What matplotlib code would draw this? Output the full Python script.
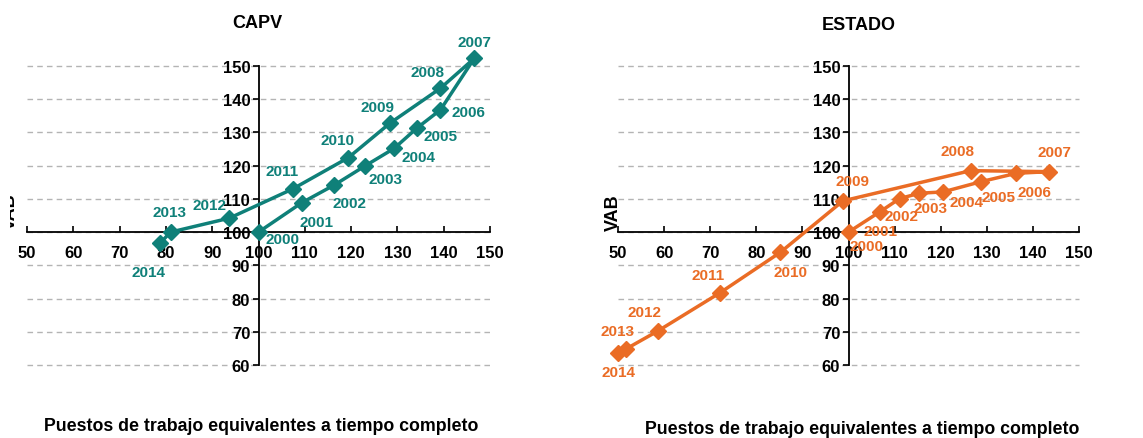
import matplotlib.pyplot as plt
from matplotlib.transforms import Bbox, TransformedBbox

plt.rcParams['font.family'] = ['Liberation Sans', 'DejaVu Sans']

years = [2000, 2001, 2002, 2003, 2004, 2005, 2006, 2007, 2008, 2009, 2010, 2011, 2012, 2013, 2014]

# CAPV: empleo (x) y VAB (y), indice 2000 = 100
capv_empleo = [100, 109.3, 116.4, 123.1, 129.3, 134.2, 139.3, 146.6, 139.3, 128.4, 119.4, 107.4, 93.7, 81.0, 78.7]
capv_vab = [100, 108.8, 114.2, 120.0, 125.2, 131.3, 136.8, 152.3, 143.3, 132.8, 122.4, 113.0, 104.2, 100.0, 96.6]

# ESTADO
est_empleo = [100, 106.9, 111.1, 115.4, 120.5, 128.8, 136.4, 143.5, 126.5, 98.8, 85.2, 72.2, 58.6, 51.7, 50.1]
est_vab = [100, 106.2, 110.1, 111.7, 112.1, 115.2, 117.7, 118.2, 118.5, 109.4, 93.9, 81.8, 70.2, 64.8, 63.5]

# label offsets (points)
capv_off = [(17, -5), (11, -13.5), (10.5, -13), (14.5, -9.6), (17.8, -6), (17.3, -6), (20, -1.5),
            (0, 12), (-9.6, 12), (-9, 11.3), (-7.6, 12.7), (-8, 12.7), (-14, 9.6), (-0.7, 14.4), (-8, -20.4)]
est_off = [(12.7, -10.3), (0, -14), (1.2, -12.5), (8, -10.8), (16.8, -7.6), (12.7, -11.2), (13.2, -13.2),
           (4, 14), (-9.8, 14.4), (7.2, 14.4), (7.2, -14), (-9, 12.5), (-9.6, 13.5), (-6, 13), (0, -13.2)]

teal = '#0f8079'
orange = '#ea6c25'

W, H = 1143, 439
fig = plt.figure(figsize=(W / 100, H / 100), dpi=100)


def panel(rect, xs, ys, offs, color, title, tx, ty, lx, ly):
    ax = fig.add_axes(rect)
    ax.set_xlim(50, 150)
    ax.set_ylim(60, 150)
    for v in range(60, 151, 10):
        ax.axhline(v, color='#b4b4b4', lw=1, ls=(0, (4, 3)), zorder=0, clip_on=False)
    ax.spines['left'].set_position(('data', 100))
    ax.spines['bottom'].set_position(('data', 100))
    ax.spines['right'].set_visible(False)
    ax.spines['top'].set_visible(False)
    for s in ('left', 'bottom'):
        ax.spines[s].set_linewidth(1.3)
        ax.spines[s].set_zorder(1)
    ax.set_xticks(range(50, 151, 10))
    ax.set_yticks(range(60, 151, 10))
    ax.tick_params(axis='x', direction='in', length=4, width=1.2, pad=9)
    ax.tick_params(axis='y', direction='out', length=4, width=1.2, pad=2)
    for lab in ax.get_xticklabels() + ax.get_yticklabels():
        lab.set_fontsize(12)
        lab.set_fontweight('bold')
    ax.plot(xs, ys, color=color, lw=2.5, marker='D', ms=8.5, clip_on=False, zorder=3)
    for yr, x, y, o in zip(years, xs, ys, offs):
        ax.annotate(str(yr), (x, y), xytext=o, textcoords='offset points', ha='center', va='center',
                    color=color, fontsize=11, fontweight='bold', annotation_clip=False, zorder=4)
    ax.patch.set_visible(False)
    fig.text(tx / W, 1 - ty / H, title, ha='center', va='center', fontsize=13, fontweight='bold')
    fig.text(lx / W, 1 - ly / H, 'Puestos de trabajo equivalentes a tiempo completo',
             ha='center', va='center', fontsize=12.8, fontweight='bold')
    return ax


panel([27 / W, 73 / H, 463 / W, 299 / H], capv_empleo, capv_vab, capv_off, teal, 'CAPV', 257, 23, 261, 427)
panel([618 / W, 73 / H, 461 / W, 299 / H], est_empleo, est_vab, est_off, orange, 'ESTADO', 859, 25, 862, 430)

fig.text(613 / W, 1 - 213 / H, 'VAB', rotation=90, ha='center', va='center', fontsize=13, fontweight='bold')
t = fig.text(10 / W, 1 - 212 / H, 'VAB', rotation=90, ha='center', va='center', fontsize=13, fontweight='bold')
t.set_clip_box(TransformedBbox(Bbox([[10 / W, 0], [1, 1]]), fig.transFigure))
t.set_clip_on(True)

fig.savefig('out.png', dpi=100)
